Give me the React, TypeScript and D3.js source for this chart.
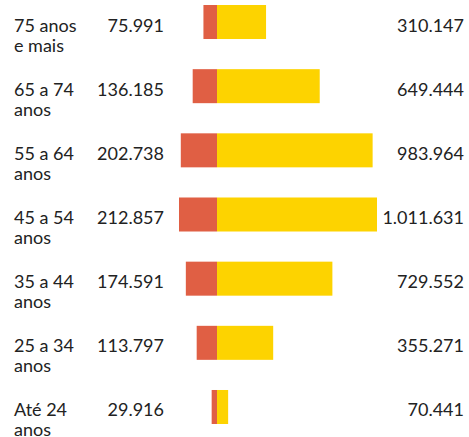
import React from "react";
import * as d3 from "d3";

const categories = ["75 anos|e mais", "65 a 74|anos", "55 a 64|anos", "45 a 54|anos", "35 a 44|anos", "25 a 34|anos", "Até 24|anos"];
const leftValues = [75991, 136185, 202738, 212857, 174591, 113797, 29916];
const rightValues = [310147, 649444, 983964, 1011631, 729552, 355271, 70441];
const leftLabels = ["75.991", "136.185", "202.738", "212.857", "174.591", "113.797", "29.916"];
const rightLabels = ["310.147", "649.444", "983.964", "1.011.631", "729.552", "355.271", "70.441"];

const W = 469;
const H = 437;
const CX = 217;

export default function App() {
  const y = d3.scaleBand<string>().domain(categories).range([5, 424]).paddingInner(0.47).paddingOuter(0);
  const xL = d3.scaleLinear().domain([0, 212857]).range([0, 38]);
  const xR = d3.scaleLinear().domain([0, 1011631]).range([0, 160]);
  const font = "Lato, 'Noto Sans', sans-serif";
  return (
    <svg width={W} height={H} style={{ position: "absolute", left: 0, top: 0, background: "#fff" }} fontFamily={font}>
      {categories.map((c, i) => {
        const top = y(c)!;
        const bw = y.bandwidth();
        const base = top + 26.5;
        const lines = c.split("|");
        return (
          <g key={c}>
            <rect x={CX - xL(leftValues[i])} y={top} width={xL(leftValues[i])} height={bw} fill="#E05F44" />
            <rect x={CX} y={top} width={xR(rightValues[i])} height={bw} fill="#FDD300" />
            <text x={14} y={base} fontSize={18} fill="#222">
              <tspan x={14} y={base}>{lines[0]}</tspan>
              <tspan x={14} y={base + 20}>{lines[1]}</tspan>
            </text>
            <text x={164} y={base} fontSize={18} fill="#222" textAnchor="end">{leftLabels[i]}</text>
            <text x={464} y={base} fontSize={18} fill="#222" textAnchor="end">{rightLabels[i]}</text>
          </g>
        );
      })}
    </svg>
  );
}
